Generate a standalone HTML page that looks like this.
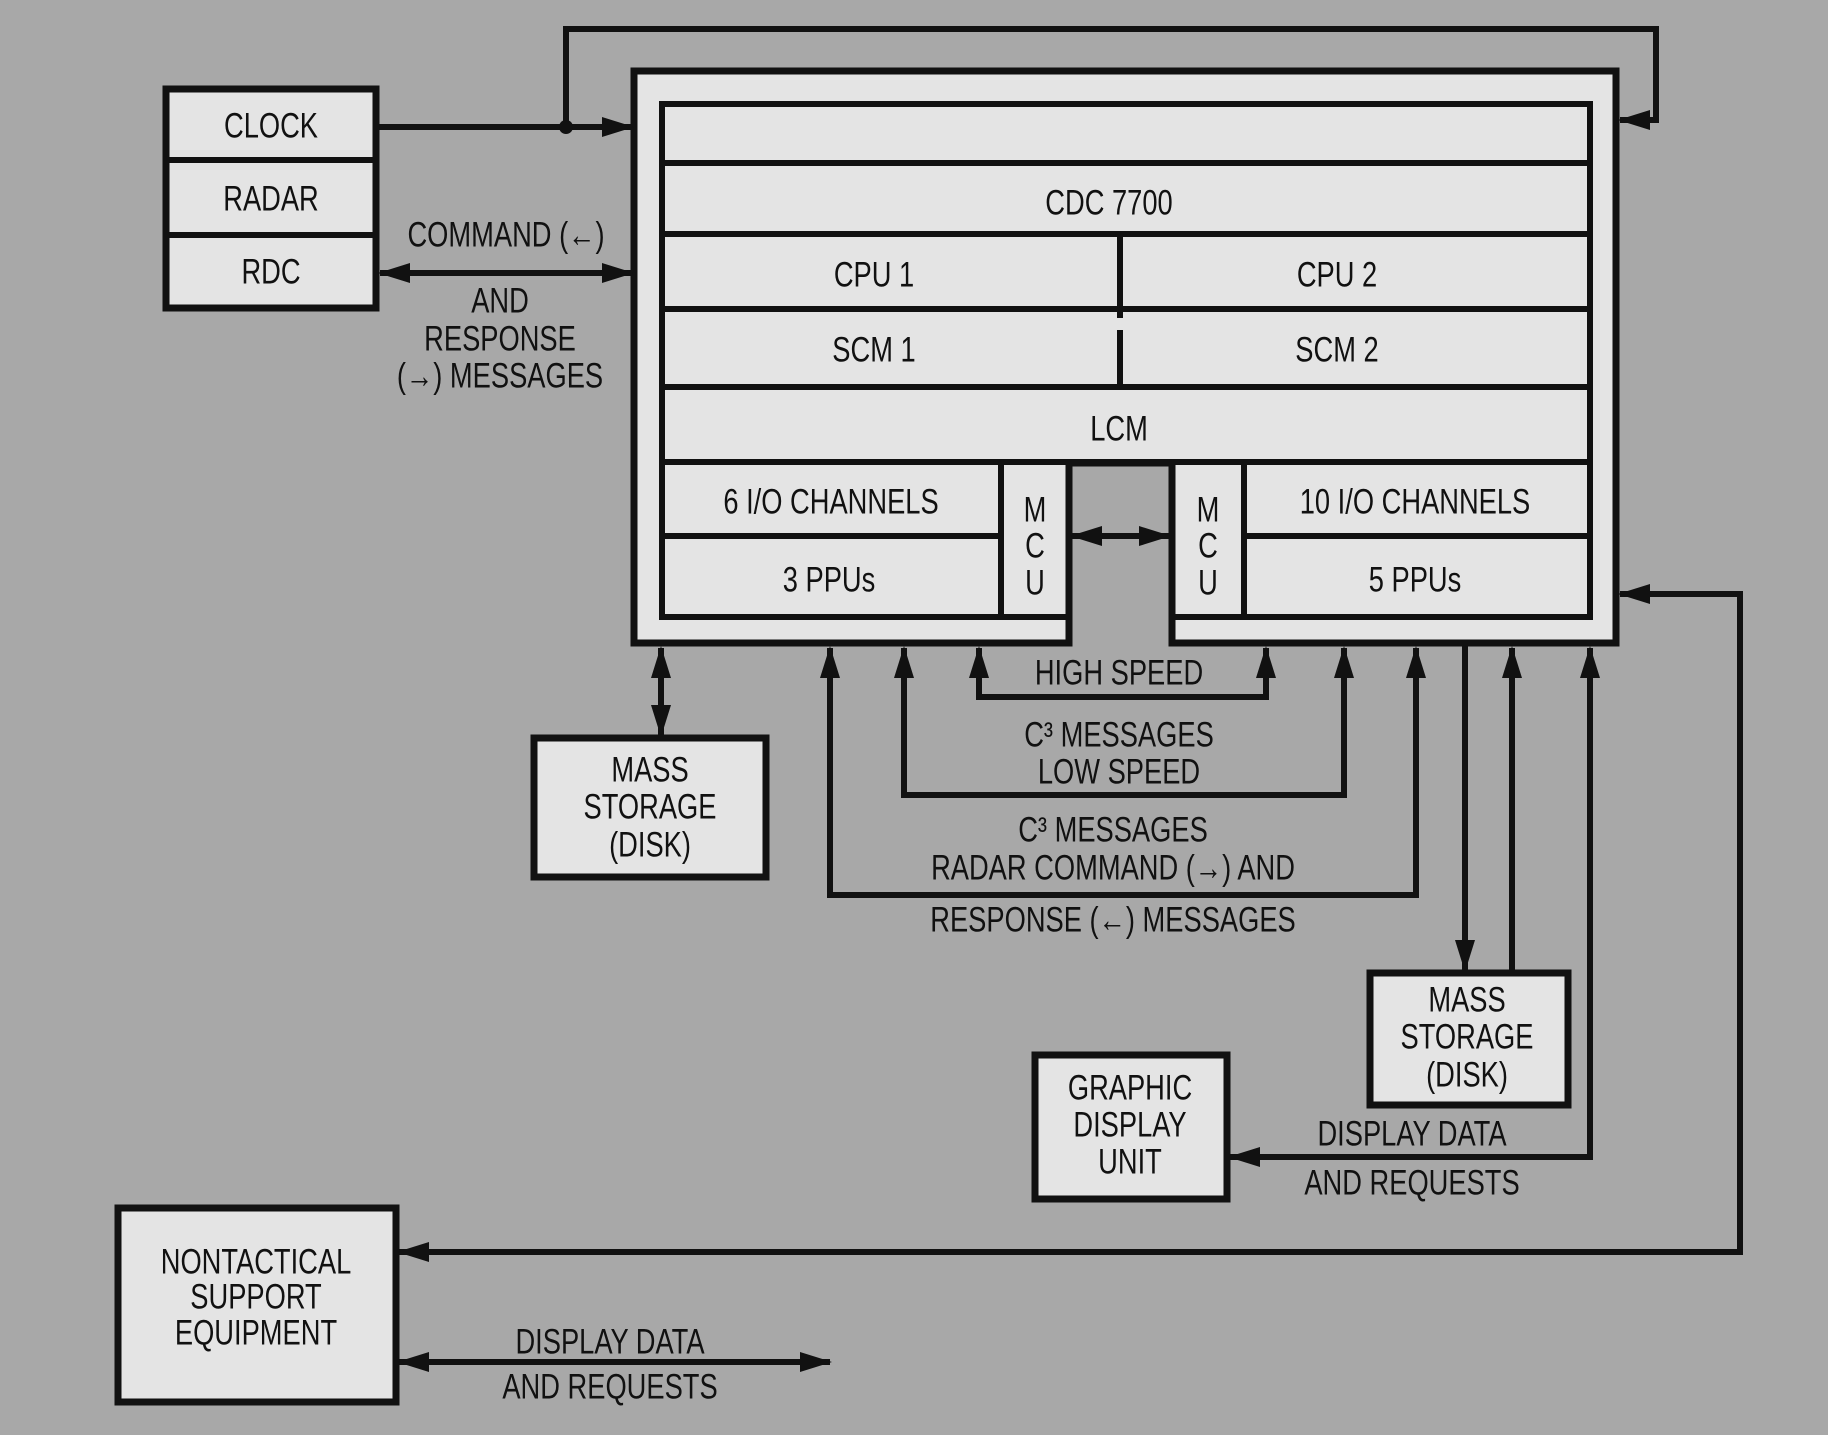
<!DOCTYPE html>
<html><head><meta charset="utf-8"><style>
html,body{margin:0;padding:0;background:#a8a8a8;}
svg{display:block}
text{font-family:"Liberation Sans",sans-serif;font-size:35px;fill:#111;}
</style></head><body>
<svg width="1828" height="1435" viewBox="0 0 1828 1435" xmlns="http://www.w3.org/2000/svg">
<defs>
<marker id="a" markerUnits="userSpaceOnUse" markerWidth="34" markerHeight="24" refX="30" refY="10" orient="auto-start-reverse">
<path d="M0,0 L32,10 L0,20 Z" fill="#111"/>
</marker>
</defs>
<rect width="1828" height="1435" fill="#a8a8a8"/>
<g stroke="#111" stroke-width="7" fill="#e4e4e4">
<rect x="166" y="89" width="210" height="219"/>
<path d="M634,71 H1616 V643 H1172 V463 H1069 V643 H634 Z"/>
<rect x="534" y="738" width="232" height="139"/>
<rect x="1370" y="973" width="198" height="132"/>
<rect x="1035" y="1055" width="192" height="144"/>
<rect x="118" y="1208" width="278" height="194"/>
</g>
<g stroke="#111" stroke-width="6" fill="none">
<line x1="166" y1="160" x2="376" y2="160"/>
<line x1="166" y1="235" x2="376" y2="235"/>
<path d="M662,104 H1590 V617 H1172 V462 H1069 V617 H662 Z"/>
<line x1="662" y1="163" x2="1590" y2="163"/>
<line x1="662" y1="234" x2="1590" y2="234"/>
<line x1="662" y1="309" x2="1590" y2="309"/>
<line x1="662" y1="387" x2="1590" y2="387"/>
<line x1="662" y1="462" x2="1590" y2="462"/>
<line x1="662" y1="536" x2="1001" y2="536"/>
<line x1="1244" y1="536" x2="1590" y2="536"/>
<line x1="1001" y1="462" x2="1001" y2="617"/>
<line x1="1244" y1="462" x2="1244" y2="617"/>
<line x1="1120" y1="234" x2="1120" y2="318"/>
<line x1="1120" y1="330" x2="1120" y2="387"/>
</g>
<g stroke="#111" stroke-width="6" fill="none">
<path d="M566,127 V29 H1656 V120 H1620" marker-end="url(#a)"/>
<path d="M378,127 H632" marker-end="url(#a)"/>
<path d="M380,273 H632" marker-start="url(#a)" marker-end="url(#a)"/>
<path d="M1072,536 H1169" marker-start="url(#a)" marker-end="url(#a)"/>
<path d="M661,648 V735" marker-start="url(#a)" marker-end="url(#a)"/>
<path d="M979,648 V697 H1266 V648" marker-start="url(#a)" marker-end="url(#a)"/>
<path d="M904,648 V795 H1344 V648" marker-start="url(#a)" marker-end="url(#a)"/>
<path d="M830,648 V895 H1416 V648" marker-start="url(#a)" marker-end="url(#a)"/>
<path d="M1465,645 V970" marker-end="url(#a)"/>
<path d="M1512,973 V648" marker-end="url(#a)"/>
<path d="M1590,648 V1157 H1230" marker-start="url(#a)" marker-end="url(#a)"/>
<path d="M1620,594 H1740 V1252 H399" marker-start="url(#a)" marker-end="url(#a)"/>
<path d="M399,1362 H830" marker-start="url(#a)" marker-end="url(#a)"/>
</g>
<circle cx="566" cy="127" r="7" fill="#111"/>
<g text-anchor="middle" dominant-baseline="central">
<text transform="translate(271,126) scale(0.78,1)">CLOCK</text>
<text transform="translate(271,199) scale(0.78,1)">RADAR</text>
<text transform="translate(271,272) scale(0.78,1)">RDC</text>
<text transform="translate(506,235) scale(0.78,1)">COMMAND (←)</text>
<text transform="translate(500,301) scale(0.78,1)">AND</text>
<text transform="translate(500,339) scale(0.78,1)">RESPONSE</text>
<text transform="translate(500,376) scale(0.78,1)">(→) MESSAGES</text>
<text transform="translate(1109,203) scale(0.78,1)">CDC 7700</text>
<text transform="translate(874,275) scale(0.78,1)">CPU 1</text>
<text transform="translate(1337,275) scale(0.78,1)">CPU 2</text>
<text transform="translate(874,350) scale(0.78,1)">SCM 1</text>
<text transform="translate(1337,350) scale(0.78,1)">SCM 2</text>
<text transform="translate(1119,429) scale(0.78,1)">LCM</text>
<text transform="translate(831,502) scale(0.78,1)">6 I/O CHANNELS</text>
<text transform="translate(829,580) scale(0.78,1)">3 PPUs</text>
<text transform="translate(1415,502) scale(0.78,1)">10 I/O CHANNELS</text>
<text transform="translate(1415,580) scale(0.78,1)">5 PPUs</text>
<text transform="translate(1035,510) scale(0.78,1)">M</text>
<text transform="translate(1035,546) scale(0.78,1)">C</text>
<text transform="translate(1035,583) scale(0.78,1)">U</text>
<text transform="translate(1208,510) scale(0.78,1)">M</text>
<text transform="translate(1208,546) scale(0.78,1)">C</text>
<text transform="translate(1208,583) scale(0.78,1)">U</text>
<text transform="translate(650,770) scale(0.78,1)">MASS</text>
<text transform="translate(650,807) scale(0.78,1)">STORAGE</text>
<text transform="translate(650,845) scale(0.78,1)">(DISK)</text>
<text transform="translate(1119,673) scale(0.78,1)">HIGH SPEED</text>
<text transform="translate(1119,735) scale(0.78,1)">C³ MESSAGES</text>
<text transform="translate(1119,772) scale(0.78,1)">LOW SPEED</text>
<text transform="translate(1113,830) scale(0.78,1)">C³ MESSAGES</text>
<text transform="translate(1113,868) scale(0.78,1)">RADAR COMMAND (→) AND</text>
<text transform="translate(1113,920) scale(0.78,1)">RESPONSE (←) MESSAGES</text>
<text transform="translate(1467,1000) scale(0.78,1)">MASS</text>
<text transform="translate(1467,1037) scale(0.78,1)">STORAGE</text>
<text transform="translate(1467,1075) scale(0.78,1)">(DISK)</text>
<text transform="translate(1130,1088) scale(0.78,1)">GRAPHIC</text>
<text transform="translate(1130,1125) scale(0.78,1)">DISPLAY</text>
<text transform="translate(1130,1162) scale(0.78,1)">UNIT</text>
<text transform="translate(1412,1134) scale(0.78,1)">DISPLAY DATA</text>
<text transform="translate(1412,1183) scale(0.78,1)">AND REQUESTS</text>
<text transform="translate(256,1262) scale(0.78,1)">NONTACTICAL</text>
<text transform="translate(256,1297) scale(0.78,1)">SUPPORT</text>
<text transform="translate(256,1333) scale(0.78,1)">EQUIPMENT</text>
<text transform="translate(610,1342) scale(0.78,1)">DISPLAY DATA</text>
<text transform="translate(610,1387) scale(0.78,1)">AND REQUESTS</text>
</g>
</svg>
</body></html>
